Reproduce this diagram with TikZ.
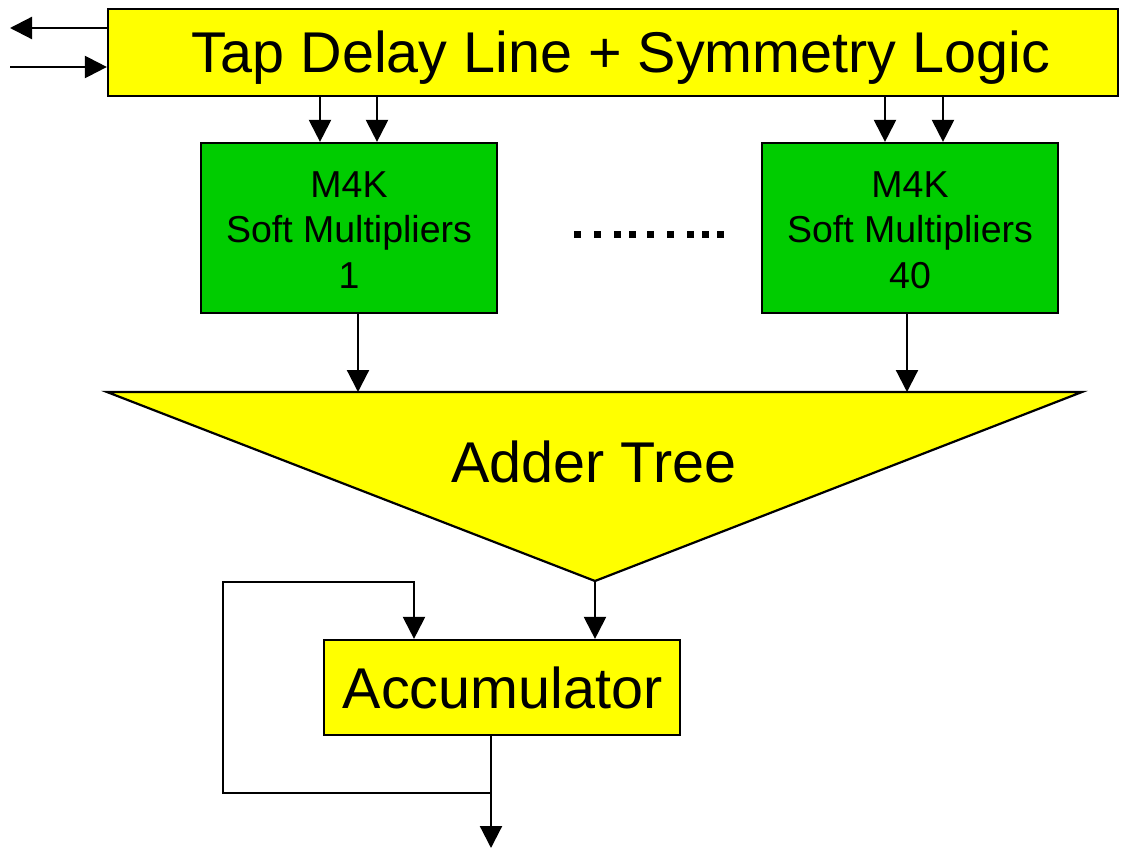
\documentclass[tikz,border=0pt]{standalone}
\usepackage{fontspec}
\setmainfont{Liberation Sans}
\usetikzlibrary{arrows.meta}
\definecolor{yel}{RGB}{255,255,0}
\definecolor{grn}{RGB}{0,204,0}
\begin{document}
\begin{tikzpicture}[x=1pt,y=-1pt,
  line width=2.2pt,
  arr/.style={-{Triangle[length=22pt,width=22pt]}},
  ybox/.style={draw=black,fill=yel,inner sep=0pt},
  gbox/.style={draw=black,fill=grn,inner sep=0pt,minimum width=296pt,minimum height=170pt},
  gtext/.style={inner sep=0pt,align=center,font=\fontsize{37.5}{45.5}\selectfont},
  bigtext/.style={inner sep=0pt,anchor=base,font=\fontsize{57.5}{60}\selectfont}]
\useasboundingbox (0,0) rectangle (1122,848);
% top box
\node[ybox,minimum width=1010pt,minimum height=87pt] (tap) at (613,52.5) {};
\node[bigtext] (taptext) at (621,73) {Tap Delay Line + Symmetry Logic};
\coordinate (lin) at (10,67);
\coordinate (lout) at (10,28);
\draw[arr] (tap.west |- lout) -- (lout);
\draw[arr] (lin) -- (tap.west |- lin);
% green boxes
\node[gbox] (m1) at (349,228) {};
\node[gtext] (m1text) at (349,230) {M4K\\Soft Multipliers\\1};
\node[gbox] (m2) at (910,228) {};
\node[gtext] (m2text) at (910,230) {M4K\\Soft Multipliers\\40};
\draw[arr] (tap.south -| 320,0) -- (m1.north -| 320,0);
\draw[arr] (tap.south -| 377,0) -- (m1.north -| 377,0);
\draw[arr] (tap.south -| 885,0) -- (m2.north -| 885,0);
\draw[arr] (tap.south -| 943,0) -- (m2.north -| 943,0);
% dots
\foreach \x in {577,597,617,632,650,670,690,705,720}
  \fill (\x-3.5,230.5) rectangle ++(7,7);
% adder tree
\coordinate (tl) at (107,392);
\coordinate (tr) at (1082,392);
\coordinate (tb) at (595,581);
\draw[fill=yel,line join=miter] (tl) -- (tr) -- (tb) -- cycle;
\node[bigtext] (adder) at (594,482) {Adder Tree};
\draw[arr] (m1.south -| 358,0) -- (358,392);
\draw[arr] (m2.south -| 907,0) -- (907,392);
% accumulator
\node[ybox,minimum width=356pt,minimum height=95pt] (acc) at (502,687.5) {};
\node[bigtext] (acctext) at (502.5,708) {Accumulator};
\draw[arr] (tb) -- (acc.north -| tb);
\coordinate (outp) at (491,848);
\coordinate (fb) at (491,793);
\draw[arr] (acc.south -| outp) -- (outp);
\draw[arr] (fb) -- (223,793) -- (223,582) -- (414,582) -- (acc.north -| 414,0);
\end{tikzpicture}
\end{document}
